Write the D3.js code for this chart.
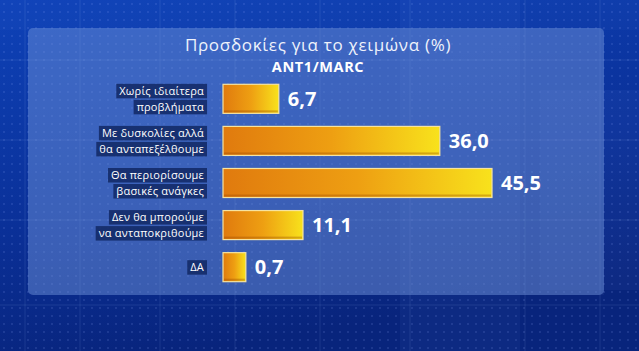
<!DOCTYPE html>
<html><head><meta charset="utf-8">
<script src="https://cdn.jsdelivr.net/npm/d3@7"></script>
<style>html,body{margin:0;padding:0;background:#0a2f95;overflow:hidden}</style>
</head><body><svg id="c" width="639" height="351"></svg>
<script>
const categories = [
  ["Χωρίς ιδιαίτερα", "προβλήματα"],
  ["Με δυσκολίες αλλά", "θα ανταπεξέλθουμε"],
  ["Θα περιορίσουμε", "βασικές ανάγκες"],
  ["Δεν θα μπορούμε", "να ανταποκριθούμε"],
  ["ΔΑ"]
];
const values = [6.7, 36.0, 45.5, 11.1, 0.7];
const valueLabels = ["6,7", "36,0", "45,5", "11,1", "0,7"];
const title = "Προσδοκίες για το χειμώνα (%)";
const subtitle = "ANT1/MARC";

const W = 639, H = 351;
const svg = d3.select("#c");
const defs = svg.append("defs");

const bg = defs.append("linearGradient").attr("id","bg").attr("x1",0).attr("y1",0).attr("x2",0.3).attr("y2",1);
bg.append("stop").attr("offset",0).attr("stop-color","#0e42b8");
bg.append("stop").attr("offset",0.6).attr("stop-color","#0a3098");
bg.append("stop").attr("offset",1).attr("stop-color","#08247c");
svg.append("rect").attr("width",W).attr("height",H).attr("fill","url(#bg)");

const pat = defs.append("pattern").attr("id","dots").attr("width",8).attr("height",8).attr("patternUnits","userSpaceOnUse");
pat.append("circle").attr("cx",4).attr("cy",4).attr("r",1).attr("fill","rgba(150,180,255,0.18)");
svg.append("rect").attr("width",W).attr("height",H).attr("fill","url(#dots)");

[[400,0,120,351,0.05],[540,90,100,200,0.06],[0,0,639,30,0.03]].forEach(b=>{
  svg.append("rect").attr("x",b[0]).attr("y",b[1]).attr("width",b[2]).attr("height",b[3]).attr("fill",`rgba(120,160,255,${b[4]})`);
});
[25,80,160,235,320,410,525,600].forEach(x=>svg.append("line").attr("x1",x).attr("x2",x).attr("y1",0).attr("y2",H).attr("stroke","rgba(170,200,255,0.12)"));
[60,140,220,305].forEach(y=>svg.append("line").attr("x1",0).attr("x2",W).attr("y1",y).attr("y2",y).attr("stroke","rgba(170,200,255,0.12)"));

svg.append("rect").attr("x",28).attr("y",28).attr("width",576).attr("height",267).attr("rx",5)
  .attr("fill","rgba(115,150,220,0.47)");
svg.append("rect").attr("x",300).attr("y",28).attr("width",304).attr("height",267)
  .attr("fill","rgba(80,110,190,0.10)");

svg.append("text").attr("x",318).attr("y",51).attr("text-anchor","middle")
  .attr("font-family","Open Sans, sans-serif").attr("font-size",17).attr("letter-spacing",0.7)
  .attr("fill","#eef2fb").text(title);
svg.append("text").attr("x",318).attr("y",72).attr("text-anchor","middle")
  .attr("font-family","Open Sans, sans-serif").attr("font-weight","bold").attr("font-size",14.5).attr("letter-spacing",0.6)
  .attr("fill","#ffffff").text(subtitle);

const y = d3.scaleBand().domain(d3.range(values.length)).range([78,288]).paddingInner(0.31).paddingOuter(0.15);
const x0 = 223;
const x = d3.scaleLinear().domain([0, d3.max(values)]).range([19, 269]);

const grad = defs.append("linearGradient").attr("id","bar").attr("x1",0).attr("y1",0).attr("x2",1).attr("y2",0);
grad.append("stop").attr("offset",0).attr("stop-color","#e07a0e");
grad.append("stop").attr("offset",0.5).attr("stop-color","#ee9f12");
grad.append("stop").attr("offset",1).attr("stop-color","#f8e21c");

const g = svg.append("g");
values.forEach((v,i)=>{
  const by = y(i), bh = y.bandwidth(), bw = x(v);
  g.append("rect").attr("x",x0).attr("y",by).attr("width",bw).attr("height",bh)
    .attr("fill","url(#bar)").attr("stroke","#f6e3a0").attr("stroke-width",1.2);
  g.append("rect").attr("x",x0+1).attr("y",by+bh-3).attr("width",bw-2).attr("height",2).attr("fill","rgba(150,70,0,0.35)");
  g.append("text").attr("x",x0+bw+9).attr("y",by+bh/2).attr("dy","0.36em")
    .attr("font-family","Open Sans, sans-serif").attr("font-weight","bold").attr("font-size",20)
    .attr("fill","#ffffff").text(valueLabels[i]);

  const lines = categories[i];
  const lh = 16, cy = by+bh/2;
  lines.forEach((t,j)=>{
    const ty = cy + (j - (lines.length-1)/2)*lh;
    const txt = g.append("text").attr("x",204).attr("y",ty).attr("dy","0.35em").attr("text-anchor","end")
      .attr("font-family","Open Sans, sans-serif").attr("font-size",11).attr("letter-spacing",0.2).attr("fill","#ffffff").text(t);
    const bb = txt.node().getBBox();
    g.insert("rect","text").attr("x",bb.x-3).attr("y",ty-7).attr("width",bb.width+6).attr("height",14.5)
      .attr("fill","rgba(18,40,100,0.85)");
  });
});
</script></body></html>
